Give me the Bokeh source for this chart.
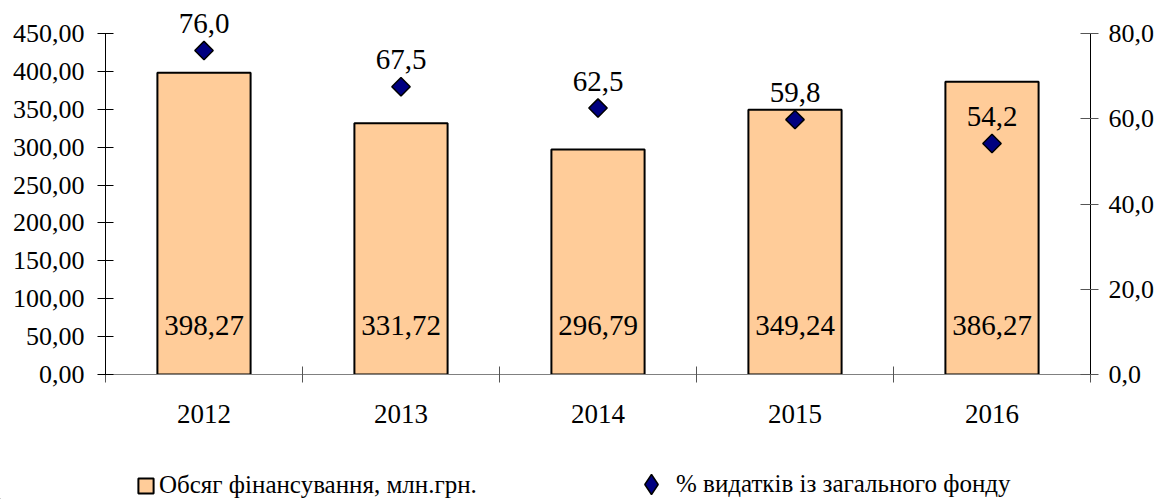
from bokeh.plotting import figure
from bokeh.layouts import column
from bokeh.models import (Range1d, LinearAxis, FixedTicker, ColumnDataSource,
                          Legend, LegendItem, CustomJSTickFormatter)
from bokeh.core.properties import value
from bokeh.embed import file_html
from bokeh.resources import INLINE
import math

years = ["2012", "2013", "2014", "2015", "2016"]
funding = [398.27, 331.72, 296.79, 349.24, 386.27]
pct = [76.0, 67.5, 62.5, 59.8, 54.2]
left_ticks = [0, 50, 100, 150, 200, 250, 300, 350, 400, 450]
right_ticks = [0, 20, 40, 60, 80]
series_names = ["Обсяг фінансування, млн.грн.", "% видатків із загального фонду"]

FONT = "Liberation Serif"
BAR_FILL = "#FFCC99"
PT_FILL = "#000080"
LEFT_MAX = 450
RIGHT_MAX = 80
FRAME_H = 374
PX_PER_UNIT = 341 / LEFT_MAX
TOP = FRAME_H / PX_PER_UNIT  # range top in left units (room for labels)

xs = [i + 0.5 for i in range(len(years))]
src = ColumnDataSource(dict(
    x=xs,
    funding=funding,
    pct=pct,
    funding_lbl=[f"{v:.2f}".replace(".", ",") for v in funding],
    pct_lbl=[f"{v:.1f}".replace(".", ",") for v in pct],
    lbl_y=[LEFT_MAX * 0.1438] * len(years),
))

p = figure(width=1154, height=455, output_backend="svg", toolbar_location=None,
           x_range=Range1d(0, len(years)), y_range=Range1d(0, TOP),
           min_border_left=105, min_border_right=64, min_border_top=0,
           min_border_bottom=81)
p.frame_width = 985
p.frame_height = FRAME_H
p.frame_align = False
p.outline_line_color = None
p.grid.visible = False
p.background_fill_color = "white"
p.border_fill_color = "white"

p.extra_y_ranges = {"pct": Range1d(0, TOP * RIGHT_MAX / LEFT_MAX)}

bars = p.vbar(x="x", top="funding", width=0.473, source=src,
              fill_color=BAR_FILL, line_color="black", line_width=2)
pts = p.scatter(x="x", y="pct", source=src, y_range_name="pct", marker="square",
                size=13, angle=math.pi / 4, fill_color=PT_FILL,
                line_color="black", line_width=1.5)

p.text(x="x", y="lbl_y", text="funding_lbl", source=src, text_align="center",
       text_baseline="middle", text_font=value(FONT), text_font_size="29px",
       text_color="black")
p.text(x="x", y="pct", text="pct_lbl", source=src, y_range_name="pct",
       text_align="center", text_baseline="middle", y_offset=-27,
       text_font=value(FONT), text_font_size="29px", text_color="black")

fmt_left = CustomJSTickFormatter(code="return tick.toFixed(2).replace('.', ',');")
fmt_right = CustomJSTickFormatter(code="return tick.toFixed(1).replace('.', ',');")

# left axis
ya = p.yaxis[0]
ya.ticker = FixedTicker(ticks=left_ticks, minor_ticks=[])
ya.formatter = fmt_left
ya.bounds = (0, LEFT_MAX)
ya.major_tick_in = 8
ya.major_tick_out = 8
ya.minor_tick_line_color = None
ya.major_label_standoff = 13
ya.axis_line_color = "black"
ya.major_tick_line_color = "black"
ya.major_label_text_font = FONT
ya.major_label_text_font_size = "26px"
ya.major_label_text_color = "black"

# right axis
ra = LinearAxis(y_range_name="pct", ticker=FixedTicker(ticks=right_ticks, minor_ticks=[]),
                formatter=fmt_right, bounds=(0, RIGHT_MAX))
ra.major_tick_in = 10
ra.major_tick_out = 8
ra.minor_tick_line_color = None
ra.major_label_standoff = 10
ra.axis_line_color = "black"
ra.major_tick_line_color = "#555555"
ra.major_label_text_font = FONT
ra.major_label_text_font_size = "26px"
ra.major_label_text_color = "black"
p.add_layout(ra, "right")

# bottom axis
xa = p.xaxis[0]
xa.ticker = FixedTicker(ticks=xs, minor_ticks=list(range(len(years) + 1)))
xa.major_label_overrides = {x: y for x, y in zip(xs, years)}
xa.major_tick_in = 0
xa.major_tick_out = 0
xa.minor_tick_in = 8
xa.minor_tick_out = 8
xa.minor_tick_line_color = "#555555"
xa.axis_line_color = "#808080"
xa.major_label_standoff = 22
xa.major_label_text_font = FONT
xa.major_label_text_font_size = "27px"
xa.major_label_text_color = "black"

# legend strip (separate small figure so nothing is clipped)
lg = figure(width=1154, height=44, output_backend="svg", toolbar_location=None,
            x_range=Range1d(0, 1), y_range=Range1d(0, 1),
            x_axis_type=None, y_axis_type=None,
            min_border_left=0, min_border_right=0, min_border_top=0,
            min_border_bottom=0)
lg.frame_align = False
lg.outline_line_color = None
lg.grid.visible = False
lg_bar = lg.vbar(x=[-5], top=[-5], width=0.5, fill_color=BAR_FILL,
                 line_color="black", line_width=2)
lg_pt = lg.scatter(x=[-5], y=[-5], marker="diamond", size=20,
                   fill_color=PT_FILL, line_color="black", line_width=1.5)

common = dict(orientation="horizontal", padding=0, margin=0,
              border_line_color=None, background_fill_alpha=0,
              label_text_font=FONT, label_text_font_size="25px",
              label_text_color="black")
leg1 = Legend(items=[LegendItem(label=series_names[0], renderers=[lg_bar])],
              location=(136, 0), glyph_width=19, glyph_height=19,
              label_standoff=4, **common)
leg2 = Legend(items=[LegendItem(label=series_names[1], renderers=[lg_pt])],
              location=(626, -10), glyph_width=50, glyph_height=50,
              label_standoff=0, **common)
lg.add_layout(leg1, "center")
lg.add_layout(leg2, "center")

layout = column(p, lg, spacing=0)
open("out.html", "w").write(file_html(layout, INLINE))
